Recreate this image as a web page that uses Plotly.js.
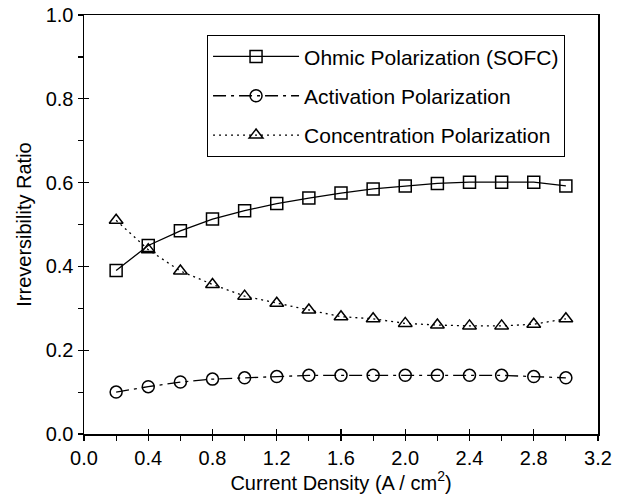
<!DOCTYPE html>
<html>
<head>
<meta charset="utf-8">
<script src="https://cdn.plot.ly/plotly-3.0.1.min.js"></script>
<style>html,body{margin:0;padding:0;background:#fff;}#chart{width:628px;height:502px;}</style>
</head>
<body>
<div id="chart"></div>
<script>
const currentDensity = [0.2, 0.4, 0.6, 0.8, 1.0, 1.2, 1.4, 1.6, 1.8, 2.0, 2.2, 2.4, 2.6, 2.8, 3.0];
const ohmic = [0.39, 0.45, 0.485, 0.513, 0.533, 0.55, 0.563, 0.575, 0.585, 0.592, 0.598, 0.601, 0.601, 0.601, 0.592];
const activation = [0.100, 0.113, 0.124, 0.131, 0.134, 0.137, 0.140, 0.140, 0.140, 0.140, 0.140, 0.140, 0.140, 0.137, 0.134];
const concentration = [0.51, 0.44, 0.389, 0.357, 0.329, 0.312, 0.296, 0.280, 0.275, 0.264, 0.260, 0.258, 0.258, 0.262, 0.275];
const names = ['Ohmic Polarization (SOFC)', 'Activation Polarization', 'Concentration Polarization'];
const xTicks = [0.0, 0.4, 0.8, 1.2, 1.6, 2.0, 2.4, 2.8, 3.2];
const yTicks = [0.0, 0.2, 0.4, 0.6, 0.8, 1.0];

const font = 'Liberation Sans, Arial, Helvetica, sans-serif';
function tr(y, name, symbol, dash, grp) {
  return {
    x: currentDensity, y: y, name: name, type: 'scatter', mode: 'lines+markers',
    legendgroup: grp,
    line: {color: 'black', width: 1.3, dash: dash},
    marker: {symbol: symbol, size: 12, color: 'black', line: {color: 'black', width: 1.5}}
  };
}
const data = [
  tr(ohmic, names[0], 'square-open', 'solid', 'a'),
  tr(activation, names[1], 'circle-open', '13px,5px,3px,5px', 'b'),
  tr(concentration, names[2], 'triangle-up-open', '2px,4px', 'c')
];
data.push({x: [0.5], y: [0.5], xaxis: 'x2', yaxis: 'y2', type: 'scatter', mode: 'markers',
  marker: {opacity: 0}, showlegend: false, hoverinfo: 'skip'});

const axCommon = {showgrid: false, zeroline: false, tickcolor: 'black', tickwidth: 1.3};
const layout = {
  width: 628, height: 502,
  margin: {l: 84, r: 30, t: 15, b: 68},
  paper_bgcolor: 'white', plot_bgcolor: 'white',
  font: {family: font, color: 'black', size: 20},
  showlegend: true,
  legend: {
    x: 0.239, y: 0.952, xanchor: 'left', yanchor: 'top',
    bgcolor: 'white', bordercolor: 'black', borderwidth: 1.2,
    font: {family: font, size: 21, color: 'black'},
    traceorder: 'grouped', tracegroupgap: 9, itemwidth: 86
  },
  xaxis: Object.assign({}, axCommon, {
    range: [0, 3.2], tickvals: xTicks, ticktext: xTicks.map(v => v.toFixed(1)),
    showline: true, linecolor: 'black', linewidth: 1.5, mirror: true,
    ticks: 'outside', ticklen: 5,
    minor: {tickvals: [0.2, 0.6, 1.0, 1.4, 1.8, 2.2, 2.6, 3.0], ticks: 'outside', ticklen: 5, tickwidth: 1.2, tickcolor: 'black', showgrid: false},
    tickfont: {size: 20},
    title: {text: 'Current Density (A / cm<sup>2</sup>)', font: {size: 20}, standoff: 8}
  }),
  yaxis: Object.assign({}, axCommon, {
    range: [0, 1.0], tickvals: yTicks, ticktext: yTicks.map(v => v.toFixed(1)),
    showline: true, linecolor: 'black', linewidth: 1.5, mirror: true,
    ticks: 'outside', ticklen: 5,
    minor: {tickvals: [0.1, 0.3, 0.5, 0.7, 0.9], ticks: 'outside', ticklen: 5, tickwidth: 1.2, tickcolor: 'black', showgrid: false},
    tickfont: {size: 20},
    title: {text: 'Irreversibility Ratio', font: {size: 20}, standoff: 8}
  }),
  xaxis2: Object.assign({}, axCommon, {
    overlaying: 'x', anchor: 'y2', side: 'bottom', range: [0, 3.2], tickvals: xTicks,
    showticklabels: false, showline: false, ticks: 'inside', ticklen: 5
  }),
  yaxis2: Object.assign({}, axCommon, {
    overlaying: 'y', anchor: 'x2', side: 'left', range: [0, 1.0], tickvals: yTicks,
    showticklabels: false, showline: false, ticks: 'inside', ticklen: 5
  })
};
Plotly.newPlot('chart', data, layout, {displayModeBar: false, staticPlot: true});
</script>
</body>
</html>
